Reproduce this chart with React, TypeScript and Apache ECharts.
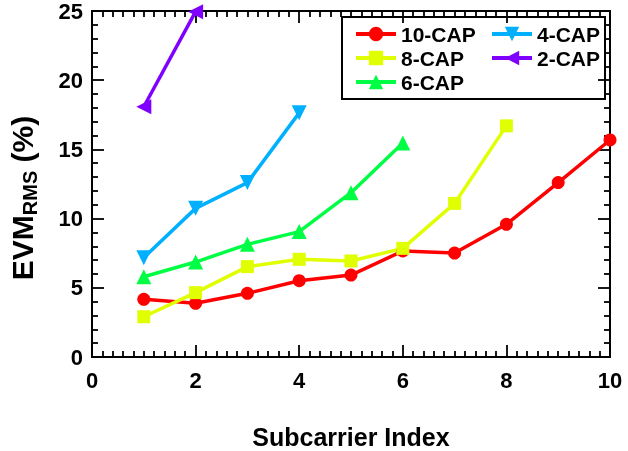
import React, { useEffect, useRef } from "react";
import * as echarts from "echarts";

const xCap10 = [1, 2, 3, 4, 5, 6, 7, 8, 9, 10];
const cap10 = [4.17, 3.88, 4.6, 5.51, 5.92, 7.66, 7.51, 9.59, 12.6, 15.68];
const xCap8 = [1, 2, 3, 4, 5, 6, 7, 8];
const cap8 = [2.91, 4.65, 6.53, 7.06, 6.94, 7.85, 11.1, 16.7];
const xCap6 = [1, 2, 3, 4, 5, 6];
const cap6 = [5.8, 6.86, 8.14, 9.06, 11.87, 15.46];
const xCap4 = [1, 2, 3, 4];
const cap4 = [7.18, 10.74, 12.6, 17.64];
const xCap2 = [1, 2];
const cap2 = [18.08, 24.95];

const seriesNames = ["10-CAP", "8-CAP", "6-CAP", "4-CAP", "2-CAP"];
const xTitle = "Subcarrier Index";

const FONT = "'Liberation Sans', Arial, Helvetica, sans-serif";

function pairs(xs: number[], ys: number[]) {
  return xs.map((x, i) => [x, ys[i]]);
}

export default function App() {
  const ref = useRef<HTMLDivElement>(null);
  useEffect(() => {
    if (!ref.current) return;
    const chart = echarts.init(ref.current, undefined, { renderer: "svg" });
    const mkAxis = (kind: "x" | "y", position: string, showLabel: boolean) => ({
      type: "value",
      min: 0,
      max: kind === "x" ? 10 : 25,
      interval: kind === "x" ? 2 : 5,
      position,
      axisLine: { show: true, onZero: false, lineStyle: { color: "#000", width: 2 } },
      axisTick: { show: true, inside: true, length: 12, lineStyle: { color: "#000", width: 1.8 } },
      minorTick: {
        show: true,
        splitNumber: kind === "x" ? 10 : 5,
        length: 6,
        lineStyle: { color: "#000", width: 1.8 },
      },
      splitLine: { show: false },
      axisLabel: {
        show: showLabel,
        margin: kind === "x" ? 12 : 9,
        fontFamily: FONT,
        fontWeight: "bold",
        fontSize: 22,
        color: "#000",
      },
    });
    const mk = (
      name: string,
      xs: number[],
      ys: number[],
      color: string,
      symbol: string,
      rotate: number,
      size: number
    ) => ({
      type: "line",
      name,
      data: pairs(xs, ys),
      xAxisIndex: 0,
      yAxisIndex: 0,
      symbol,
      symbolSize: size,
      symbolRotate: rotate,
      lineStyle: { color, width: 3.5 },
      itemStyle: { color },
      color,
    });
    const legendText = {
      fontFamily: FONT,
      fontWeight: "bold",
      fontSize: 21,
      lineHeight: 22,
      color: "#000",
    };
    const legendCommon = {
      orient: "vertical",
      top: 18,
      itemWidth: 40,
      itemHeight: 18,
      itemGap: 2,
      textStyle: legendText,
      lineStyle: { width: 4 },
      selectedMode: false,
    };
    chart.setOption({
      animation: false,
      grid: { left: 92, right: 18, top: 11, bottom: 94, containLabel: false },
      xAxis: [mkAxis("x", "bottom", true), mkAxis("x", "top", false)],
      yAxis: [mkAxis("y", "left", true), mkAxis("y", "right", false)],
      legend: [
        { ...legendCommon, data: [seriesNames[0], seriesNames[1], seriesNames[2]], left: 349 },
        { ...legendCommon, data: [seriesNames[3], seriesNames[4]], left: 485 },
      ],
      graphic: [
        {
          type: "rect",
          shape: { x: 342, y: 17, width: 263, height: 82 },
          style: { fill: "none", stroke: "#000", lineWidth: 2 },
          z: 10,
        },
        {
          type: "text",
          x: 351,
          y: 437,
          style: {
            text: xTitle,
            fontFamily: FONT,
            fontWeight: "bold",
            fontSize: 25,
            fill: "#000",
            align: "center",
            verticalAlign: "middle",
          },
        },
        {
          type: "text",
          x: 22,
          y: 198,
          rotation: Math.PI / 2,
          style: {
            text: "{a|EVM}{s|RMS}{a| (%)}",
            align: "center",
            verticalAlign: "middle",
            rich: {
              a: {
                fontFamily: FONT,
                fontWeight: "bold",
                fontSize: 30,
                fill: "#000",
                lineHeight: 36,
                verticalAlign: "middle",
              },
              s: {
                fontFamily: FONT,
                fontWeight: "bold",
                fontSize: 20,
                fill: "#000",
                lineHeight: 36,
                verticalAlign: "bottom",
              },
            },
          },
        },
      ],
      series: [
        mk(seriesNames[0], xCap10, cap10, "#ff0000", "circle", 0, 13),
        mk(seriesNames[1], xCap8, cap8, "#e0ff00", "rect", 0, 13),
        mk(seriesNames[2], xCap6, cap6, "#00ff44", "triangle", 0, 15),
        mk(seriesNames[3], xCap4, cap4, "#00b0ff", "triangle", 180, 15),
        mk(seriesNames[4], xCap2, cap2, "#8000ff", "triangle", 90, 15),
      ],
    });
    return () => chart.dispose();
  }, []);
  return (
    <div style={{ position: "fixed", left: 0, top: 0, width: 628, height: 451 }}>
      <div ref={ref} style={{ width: 628, height: 451 }} />
    </div>
  );
}
